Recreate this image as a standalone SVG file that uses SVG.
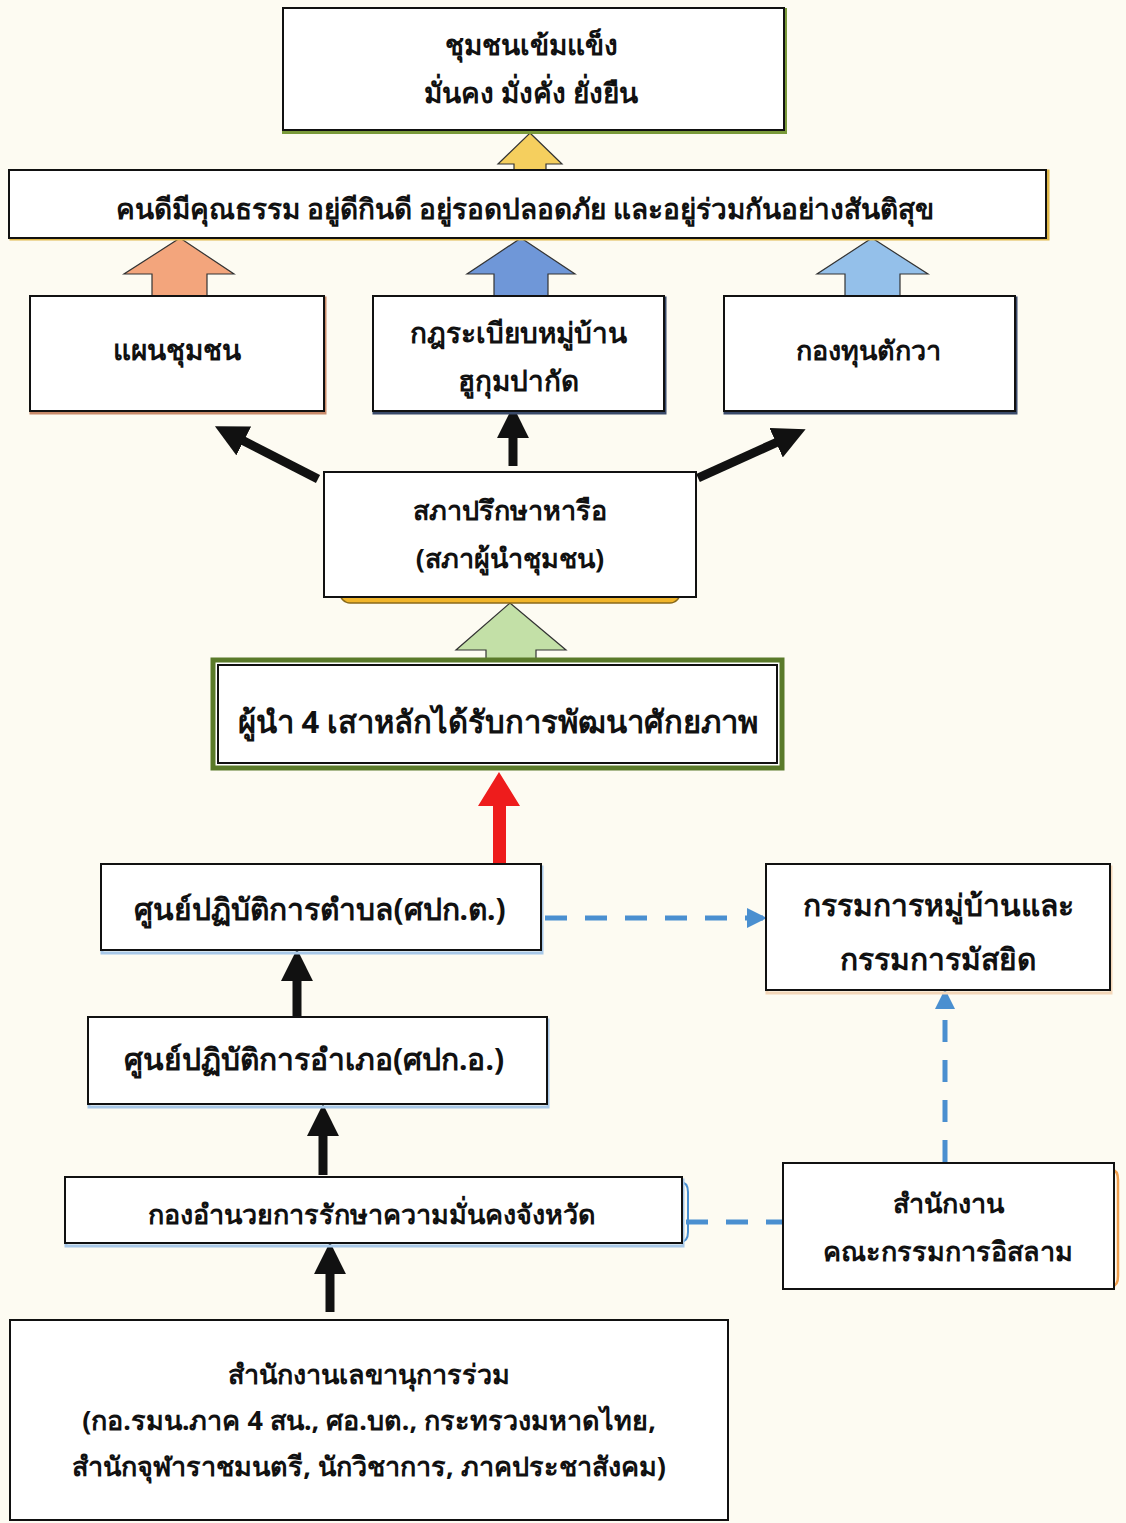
<svg xmlns="http://www.w3.org/2000/svg" width="1126" height="1523" viewBox="0 0 1126 1523">
<defs>
<style>
.box{fill:#fff;stroke:#111;stroke-width:2}
.t{font-family:"Noto Sans","Liberation Sans",sans-serif;font-weight:bold;fill:#111;text-anchor:middle}
.f27{font-size:27px}
.f28{font-size:28px}
.f30{font-size:30px}
.f31{font-size:31px}
.blk{stroke:#111;stroke-width:9;fill:none}
.dash{stroke:#4a8fd0;stroke-width:5;stroke-dasharray:22 18;fill:none}
.fat{stroke:#333;stroke-width:1.2}
</style>
<marker id="bh" viewBox="0 0 10 10" refX="2" refY="5" markerWidth="3.6" markerHeight="3.6" orient="auto" markerUnits="strokeWidth">
<path d="M0,0 L10,5 L0,10 z" fill="#111"/>
</marker>
<marker id="dh" viewBox="0 0 10 10" refX="8" refY="5" markerWidth="4" markerHeight="4" orient="auto" markerUnits="strokeWidth">
<path d="M0,0 L10,5 L0,10 z" fill="#4a8fd0"/>
</marker>
</defs>
<rect width="1126" height="1523" fill="#fdfbf2"/>

<g id="connectors">
<path class="fat" fill="#f5cf5e" d="M530,133 L562,164 L546,164 L546,172 L514,172 L514,164 L498,164 Z"/>
<path class="fat" fill="#f3a57c" d="M180,238 L234,274 L207,274 L207,296 L152,296 L152,274 L124,274 Z"/>
<path class="fat" fill="#6f97d8" d="M521,238 L575,274 L548,274 L548,296 L494,296 L494,274 L467,274 Z"/>
<path class="fat" fill="#94c0ea" d="M872,238 L928,274 L900,274 L900,296 L845,296 L845,274 L817,274 Z"/>
<path class="fat" fill="#c3e0a7" d="M510,603 L566,650 L536,650 L536,662 L486,662 L486,650 L456,650 Z"/>
<path fill="#ee1c1c" d="M499,772 L520,806 L506,806 L506,864 L493,864 L493,806 L478,806 Z"/>
<line class="blk" x1="318" y1="479" x2="238" y2="438" marker-end="url(#bh)"/>
<line class="blk" x1="513" y1="466" x2="513" y2="432" marker-end="url(#bh)"/>
<line class="blk" x1="698" y1="478" x2="782" y2="440" marker-end="url(#bh)"/>
<line class="blk" x1="297" y1="1018" x2="297" y2="975" marker-end="url(#bh)"/>
<line class="blk" x1="323" y1="1175" x2="323" y2="1130" marker-end="url(#bh)"/>
<line class="blk" x1="330" y1="1312" x2="330" y2="1268" marker-end="url(#bh)"/>
<line class="dash" x1="545" y1="918" x2="763" y2="918" marker-end="url(#dh)"/>
<line class="dash" x1="945" y1="1162" x2="945" y2="993" marker-end="url(#dh)"/>
<line class="dash" x1="686" y1="1222" x2="783" y2="1222" stroke-dasharray="18 22"/>
</g>

<g id="n-top">
<rect x="283" y="8" width="501" height="122" fill="none" stroke="#7a9a3a" stroke-width="4" transform="translate(1,2)"/>
<rect class="box" x="283" y="8" width="501" height="122"/>
<text class="t f28" x="531" y="55">ชุมชนเข้มแข็ง</text>
<text class="t f28" x="531" y="103">มั่นคง มั่งคั่ง ยั่งยืน</text>
</g>

<g id="n-values">
<rect x="9" y="170" width="1037" height="68" fill="none" stroke="#e0b84a" stroke-width="3" transform="translate(2,1)"/>
<rect class="box" x="9" y="170" width="1037" height="68"/>
<text class="t f28" x="525" y="219">คนดีมีคุณธรรม อยู่ดีกินดี อยู่รอดปลอดภัย และอยู่ร่วมกันอย่างสันติสุข</text>
</g>

<g id="n-plan">
<rect x="30" y="296" width="294" height="115" fill="none" stroke="#c98a6a" stroke-width="3" transform="translate(1,2)"/>
<rect class="box" x="30" y="296" width="294" height="115"/>
<text class="t f28" x="177" y="360">แผนชุมชน</text>
</g>

<g id="n-rules">
<rect x="373" y="296" width="291" height="115" fill="none" stroke="#3a4a6a" stroke-width="3" transform="translate(1,2)"/>
<rect class="box" x="373" y="296" width="291" height="115"/>
<text class="t f28" x="518" y="343">กฎระเบียบหมู่บ้าน</text>
<text class="t f28" x="518" y="391">ฮูกุมปากัด</text>
</g>

<g id="n-fund">
<rect x="724" y="296" width="291" height="115" fill="none" stroke="#3a4a6a" stroke-width="3" transform="translate(1,2)"/>
<rect class="box" x="724" y="296" width="291" height="115"/>
<text class="t f27" x="868" y="360">กองทุนตักวา</text>
</g>

<g id="n-council">
<rect x="340" y="575" width="340" height="28" rx="10" fill="#f1b52a" stroke="#8a6a1a" stroke-width="1.5"/>
<rect class="box" x="324" y="472" width="372" height="125"/>
<text class="t f27" x="510" y="520">สภาปรึกษาหารือ</text>
<text class="t f27" x="510" y="568">(สภาผู้นำชุมชน)</text>
</g>

<g id="n-leaders">
<rect x="213" y="660" width="569" height="108" fill="#fff" stroke="#5a7a2a" stroke-width="5"/>
<rect x="218" y="665" width="559" height="98" fill="#fff" stroke="#111" stroke-width="2"/>
<text class="t f31" x="498" y="733">ผู้นำ 4 เสาหลักได้รับการพัฒนาศักยภาพ</text>
</g>

<g id="n-tambon">
<rect x="101" y="864" width="440" height="86" fill="none" stroke="#a8c8e8" stroke-width="3" transform="translate(1,3)"/>
<rect class="box" x="101" y="864" width="440" height="86"/>
<text class="t f30" x="320" y="920">ศูนย์ปฏิบัติการตำบล(ศปก.ต.)</text>
</g>

<g id="n-village">
<rect x="766" y="864" width="344" height="126" fill="none" stroke="#f3d6b8" stroke-width="3" transform="translate(1,3)"/>
<rect class="box" x="766" y="864" width="344" height="126"/>
<text class="t f30" x="938" y="916">กรรมการหมู่บ้านและ</text>
<text class="t f30" x="938" y="970">กรรมการมัสยิด</text>
</g>

<g id="n-amphoe">
<rect x="88" y="1017" width="459" height="87" fill="none" stroke="#a8c8e8" stroke-width="3" transform="translate(1,3)"/>
<rect class="box" x="88" y="1017" width="459" height="87"/>
<text class="t f30" x="314" y="1070">ศูนย์ปฏิบัติการอำเภอ(ศปก.อ.)</text>
</g>

<g id="n-province">
<path d="M680,1182 Q688,1182 688,1192 L688,1232 Q688,1242 680,1242" fill="none" stroke="#4a8fd0" stroke-width="2"/>
<rect x="65" y="1177" width="617" height="66" fill="none" stroke="#a8c8e8" stroke-width="3" transform="translate(1,3)"/>
<rect class="box" x="65" y="1177" width="617" height="66"/>
<text class="t f27" x="372" y="1224">กองอำนวยการรักษาความมั่นคงจังหวัด</text>
</g>

<g id="n-islam">
<path d="M1112,1170 Q1118,1170 1118,1180 L1118,1276 Q1118,1286 1112,1286" fill="none" stroke="#f0a050" stroke-width="2.5"/>
<rect class="box" x="783" y="1163" width="331" height="126"/>
<text class="t f27" x="948" y="1213">สำนักงาน</text>
<text class="t f27" x="948" y="1261">คณะกรรมการอิสลาม</text>
</g>

<g id="n-secretariat">
<rect class="box" x="10" y="1320" width="718" height="200"/>
<text class="t f27" x="369" y="1384">สำนักงานเลขานุการร่วม</text>
<text class="t f27" x="369" y="1430">(กอ.รมน.ภาค 4 สน., ศอ.บต., กระทรวงมหาดไทย,</text>
<text class="t f27" x="369" y="1476">สำนักจุฬาราชมนตรี, นักวิชาการ, ภาคประชาสังคม)</text>
</g>
</svg>
